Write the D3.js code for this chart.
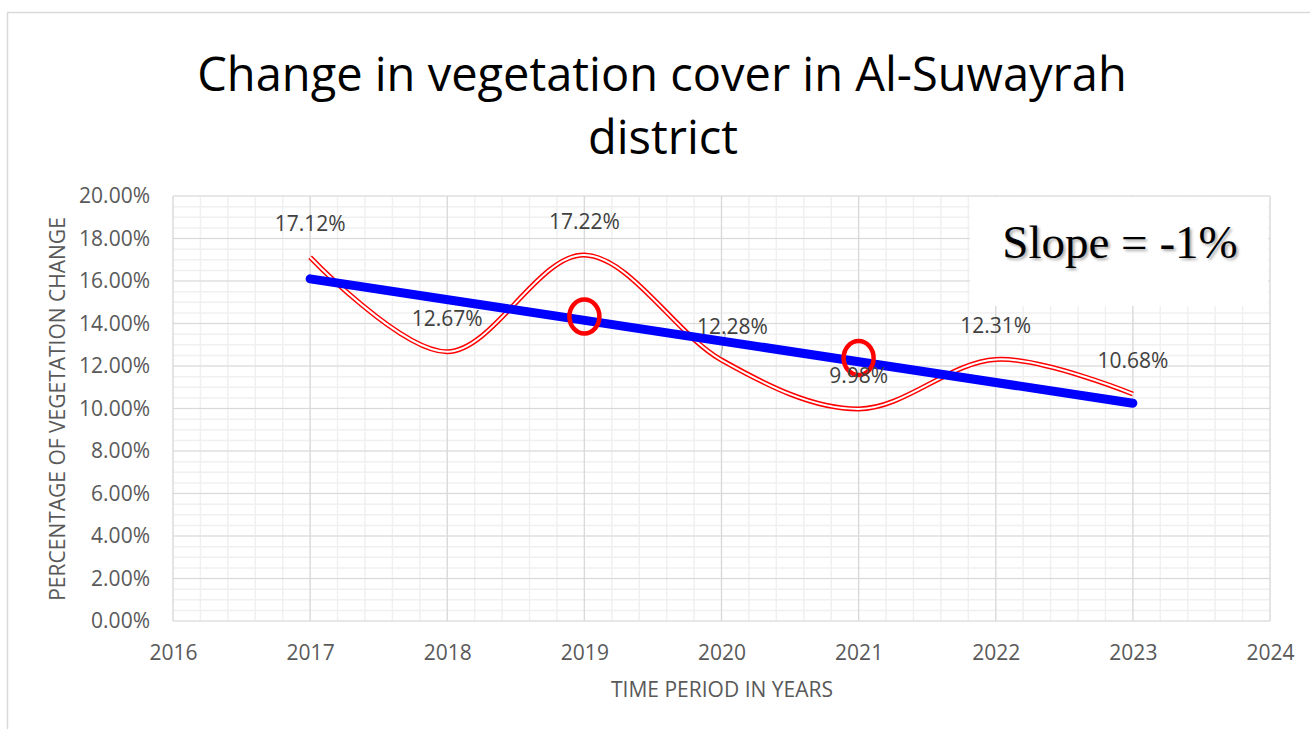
<!DOCTYPE html>
<html>
<head>
<meta charset="utf-8">
<script src="https://cdn.jsdelivr.net/npm/d3@7"></script>
<style>
  body { margin: 0; background: #fff; }
  svg { display: block; }
</style>
</head>
<body>
<svg id="chart" width="1310" height="729"></svg>
<script>
// data
var years = [2017, 2018, 2019, 2020, 2021, 2022, 2023];
var vegChange = [0.1712, 0.1267, 0.1722, 0.1228, 0.0998, 0.1231, 0.1068];
var trendYears = [2017, 2023];
var trendValues = [0.161, 0.1025];
var markedYears = [2019, 2021];
var markedValues = [0.1433, 0.1238];
var xTicks = [2016, 2017, 2018, 2019, 2020, 2021, 2022, 2023, 2024];
var yTicks = [0, 0.02, 0.04, 0.06, 0.08, 0.10, 0.12, 0.14, 0.16, 0.18, 0.20];

var plot = { left: 173, right: 1270, top: 196, bottom: 621 };
var font = "'Open Sans', 'Liberation Sans', sans-serif";
var grey = "#595959";

var svg = d3.select("#chart");

// outer chart frame (page crops it at right/bottom)
svg.append("path")
  .attr("d", "M7.5,729 V12.5 H1310")
  .attr("fill", "none")
  .attr("stroke", "#d9d9d9")
  .attr("stroke-width", 1.5);

var x = d3.scaleLinear().domain([2016, 2024]).range([plot.left, plot.right]);
var y = d3.scaleLinear().domain([0, 0.20]).range([plot.bottom, plot.top]);

// minor gridlines
var g = svg.append("g");
g.selectAll(".vminor")
  .data(x.ticks(40))
  .enter().append("line")
    .attr("x1", function(d) { return x(d); })
    .attr("x2", function(d) { return x(d); })
    .attr("y1", plot.top).attr("y2", plot.bottom)
    .attr("stroke", "#f0f0f0").attr("stroke-width", 1.5);
g.selectAll(".hminor")
  .data(y.ticks(50))
  .enter().append("line")
    .attr("x1", plot.left).attr("x2", plot.right)
    .attr("y1", function(d) { return y(d); })
    .attr("y2", function(d) { return y(d); })
    .attr("stroke", "#f0f0f0").attr("stroke-width", 1.5);

// major gridlines
g.selectAll(".vmajor")
  .data(xTicks)
  .enter().append("line")
    .attr("x1", function(d) { return x(d); })
    .attr("x2", function(d) { return x(d); })
    .attr("y1", plot.top).attr("y2", plot.bottom)
    .attr("stroke", "#d9d9d9").attr("stroke-width", 1.2);
g.selectAll(".hmajor")
  .data(yTicks)
  .enter().append("line")
    .attr("x1", plot.left).attr("x2", plot.right)
    .attr("y1", function(d) { return y(d); })
    .attr("y2", function(d) { return y(d); })
    .attr("stroke", "#d9d9d9").attr("stroke-width", 1.2);

// axes
var yAxis = svg.append("g")
  .attr("transform", "translate(" + plot.left + ",0)")
  .call(d3.axisLeft(y).tickValues(yTicks).tickFormat(d3.format(".2%")).tickSize(0).tickPadding(23));
yAxis.select(".domain").remove();
yAxis.selectAll("text")
  .attr("fill", grey).style("font-family", font).style("font-size", "21px");

var xAxis = svg.append("g")
  .attr("transform", "translate(0," + plot.bottom + ")")
  .call(d3.axisBottom(x).tickValues(xTicks).tickFormat(d3.format("d")).tickSize(0).tickPadding(24));
xAxis.select(".domain").remove();
xAxis.selectAll("text")
  .attr("fill", grey).style("font-family", font).style("font-size", "21px");

// slope box
svg.append("rect")
  .attr("x", 970).attr("y", 197)
  .attr("width", 298).attr("height", 109)
  .attr("fill", "#fff");

// smoothed double red line
var line = d3.line()
  .x(function(d, i) { return x(years[i]); })
  .y(function(d) { return y(d); })
  .curve(d3.curveCardinal);
svg.append("path")
  .attr("d", line(vegChange))
  .attr("fill", "none").attr("stroke", "#ff0000").attr("stroke-width", 5);
svg.append("path")
  .attr("d", line(vegChange))
  .attr("fill", "none").attr("stroke", "#fff").attr("stroke-width", 2);

// leader line for 2020 label
svg.append("line")
  .attr("x1", x(2020) - 1).attr("y1", y(0.1228) - 3)
  .attr("x2", x(2020) + 4).attr("y2", y(0.1228) - 27)
  .attr("stroke", "#a6a6a6").attr("stroke-width", 1);

// trend line
svg.append("line")
  .attr("x1", x(trendYears[0])).attr("y1", y(trendValues[0]))
  .attr("x2", x(trendYears[1])).attr("y2", y(trendValues[1]))
  .attr("stroke", "#0000ff").attr("stroke-width", 9).attr("stroke-linecap", "round");

// marked points
svg.selectAll(".mark")
  .data(markedYears)
  .enter().append("ellipse")
    .attr("cx", function(d) { return x(d); })
    .attr("cy", function(d, i) { return y(markedValues[i]); })
    .attr("rx", 15).attr("ry", 17)
    .attr("fill", "none").attr("stroke", "#ff0000").attr("stroke-width", 4.5);

// data labels
var labelDx = [0, 0, 0, 11, 0, 0, 0];
svg.selectAll(".lbl")
  .data(vegChange)
  .enter().append("text")
    .attr("x", function(d, i) { return x(years[i]) + labelDx[i]; })
    .attr("y", function(d) { return y(d) - 26; })
    .attr("text-anchor", "middle")
    .attr("fill", "#404040")
    .style("font-family", font).style("font-size", "21px")
    .text(function(d) { return (d * 100).toFixed(2) + "%"; });

// slope text
svg.append("text")
  .attr("x", 1120).attr("y", 258)
  .attr("text-anchor", "middle")
  .style("font-family", "'Liberation Serif', 'Times New Roman', serif")
  .style("font-size", "47px")
  .style("text-shadow", "2px 2px 3px rgba(0,0,0,0.35)")
  .attr("fill", "#000")
  .text("Slope = -1%");

// title
var title = svg.append("text")
  .attr("text-anchor", "middle")
  .style("font-family", font)
  .style("font-size", "47px")
  .attr("fill", "#000");
title.append("tspan").attr("x", 662).attr("y", 91).text("Change in vegetation cover in Al-Suwayrah");
title.append("tspan").attr("x", 663).attr("y", 154).text("district");

// axis titles
svg.append("text")
  .attr("x", 722).attr("y", 697)
  .attr("text-anchor", "middle")
  .attr("fill", grey)
  .style("font-family", font).style("font-size", "21px")
  .text("TIME PERIOD IN YEARS");

svg.append("text")
  .attr("transform", "translate(65,409) rotate(-90)")
  .attr("text-anchor", "middle")
  .attr("fill", grey)
  .style("font-family", font).style("font-size", "21px")
  .text("PERCENTAGE OF VEGETATION CHANGE");
</script>
</body>
</html>
